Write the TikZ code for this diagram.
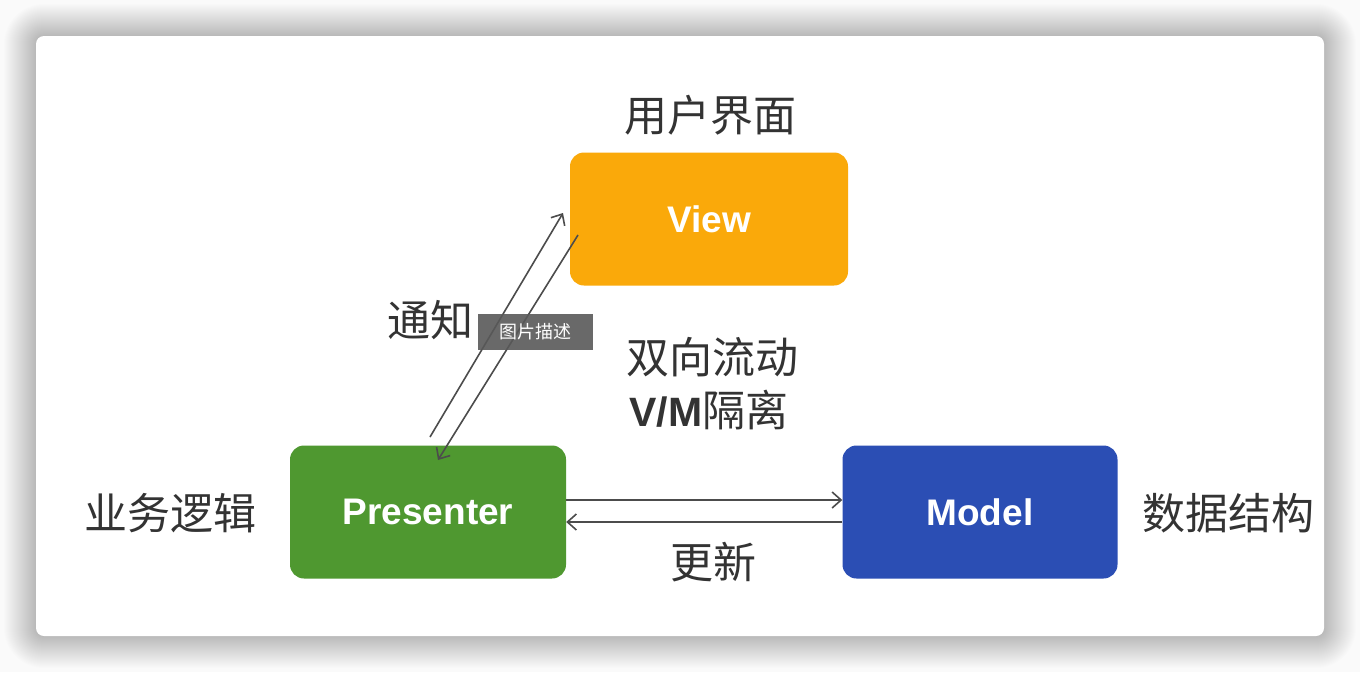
\documentclass[tikz,border=0pt]{standalone}
\usepackage{fontspec}
\setmainfont{Liberation Sans}
\newfontfamily\cjk{Noto Sans CJK SC}
\usetikzlibrary{arrows.meta}
\definecolor{vieworange}{HTML}{FAA90A}
\definecolor{presgreen}{HTML}{4F9830}
\definecolor{modelblue}{HTML}{2B4EB4}
\definecolor{txtgray}{HTML}{333333}
\tikzset{
  box/.style={rounded corners=14pt, minimum width=#1, minimum height=133pt, inner sep=0pt, text=white, font=\fontsize{37}{40}\selectfont\bfseries},
  lbl/.style={font=\cjk\fontsize{43}{50}\selectfont, text=txtgray, inner sep=0pt},
  conn/.style={draw=black!70, line width=1.6pt, -{Straight Barb[length=9pt,width=16pt,line width=1.6pt]}},
}
\begin{document}
\begin{tikzpicture}[x=1pt,y=-1pt]
\useasboundingbox (0,0) rectangle (1360,672);
\fill[white!98!black] (0,0) rectangle (1360,672);
\foreach \i in {1,...,32}{
  \pgfmathsetmacro{\rc}{8+\i}
  \fill[black,opacity=0.0065,rounded corners=\rc pt] (36-\i,36-\i) rectangle (1324+\i,636+\i);
}
\fill[white,rounded corners=8pt] (36,36) rectangle (1324,636);
% nodes
\node[box=278pt, fill=vieworange] (view) at (709,219) {View};
\node[box=276pt, fill=presgreen] (pres) at (428,512) {Presenter};
\node[box=275pt, fill=modelblue] (model) at (980,512) {Model};
% connectors
\coordinate (p1) at (430,437);
\coordinate (v1) at (563,213);
\coordinate (v2) at (578,235);
\coordinate (p2) at (438,460);
\draw[conn] (p1) -- (v1);
\draw[conn] (v2) -- (p2);
\draw[conn] (pres.east |- 0,500) -- (model.west |- 0,500);
\draw[conn] (model.west |- 0,522) -- (pres.east |- 0,522);
% labels
\node[lbl] (uilbl) at (710,115) {用户界面};
\node[lbl] (notify) at (430,320) {通知};
\node[lbl] (flow) at (712,357) {双向流动};
\node[lbl, font=\fontsize{41}{48}\selectfont\bfseries] (vm) at (709,410) {V/M{\cjk\mdseries\fontsize{43}{50}\selectfont 隔离}};
\node[lbl] (biz) at (170,513) {业务逻辑};
\node[lbl] (data) at (1228,513) {数据结构};
\node[lbl] (upd) at (713,562) {更新};
% tooltip
\node[fill=black!65, fill opacity=0.9, text opacity=1, text=white, font=\cjk\fontsize{18}{20}\selectfont, minimum width=115pt, minimum height=36pt, inner sep=0pt] (tip) at (535.5,332) {图片描述};
\end{tikzpicture}
\end{document}
